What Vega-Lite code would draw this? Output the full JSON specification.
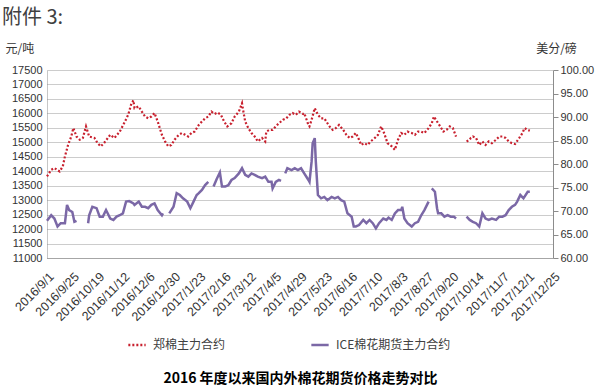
{
  "$schema": "https://vega.github.io/schema/vega-lite/v6.json",
  "width": 506,
  "height": 188,
  "autosize": "none",
  "padding": {"left": 47, "top": 70, "right": 47, "bottom": 129},
  "background": "white",
  "config": {"view": {"stroke": null}, "font": "Liberation Sans", "axisX": {"labelOverlap": false}},
  "title": {"text": "附件 3:", "anchor": "start", "frame": "group", "dx": -45, "offset": 14, "fontSize": 20, "font": "Noto Sans CJK SC", "fontWeight": "normal", "color": "#404040"},
  "datasets": {
    "zc": [
      {"date": "2016-09-01", "v": 13820}, {"date": "2016-09-05", "v": 14050}, {"date": "2016-09-08", "v": 14110}, {"date": "2016-09-13", "v": 13990}, {"date": "2016-09-16", "v": 14170}, {"date": "2016-09-18", "v": 14510}, {"date": "2016-09-21", "v": 14910}, {"date": "2016-09-24", "v": 15200}, {"date": "2016-09-26", "v": 15490}, {"date": "2016-09-29", "v": 15200},
      {"date": "2016-10-02", "v": 15090}, {"date": "2016-10-05", "v": 15150}, {"date": "2016-10-08", "v": 15550}, {"date": "2016-10-11", "v": 15200}, {"date": "2016-10-16", "v": 15150}, {"date": "2016-10-19", "v": 14970}, {"date": "2016-10-22", "v": 14860}, {"date": "2016-10-25", "v": 14970}, {"date": "2016-10-31", "v": 15260},
      {"date": "2016-11-04", "v": 15150}, {"date": "2016-11-09", "v": 15370}, {"date": "2016-11-14", "v": 15720}, {"date": "2016-11-17", "v": 15950}, {"date": "2016-11-20", "v": 16330}, {"date": "2016-11-22", "v": 16450}, {"date": "2016-11-23", "v": 16180}, {"date": "2016-11-27", "v": 16240}, {"date": "2016-11-30", "v": 16060},
      {"date": "2016-12-03", "v": 15890}, {"date": "2016-12-06", "v": 15830}, {"date": "2016-12-09", "v": 15890}, {"date": "2016-12-12", "v": 16010}, {"date": "2016-12-15", "v": 15720}, {"date": "2016-12-19", "v": 15260}, {"date": "2016-12-22", "v": 15030}, {"date": "2016-12-25", "v": 14860}, {"date": "2016-12-28", "v": 14910}, {"date": "2016-12-31", "v": 15090},
      {"date": "2017-01-04", "v": 15260}, {"date": "2017-01-07", "v": 15320}, {"date": "2017-01-10", "v": 15260}, {"date": "2017-01-13", "v": 15200}, {"date": "2017-01-16", "v": 15320}, {"date": "2017-01-19", "v": 15370}, {"date": "2017-01-23", "v": 15600}, {"date": "2017-01-26", "v": 15720}, {"date": "2017-01-29", "v": 15830},
      {"date": "2017-02-01", "v": 15890}, {"date": "2017-02-04", "v": 16060}, {"date": "2017-02-07", "v": 15980}, {"date": "2017-02-10", "v": 16030}, {"date": "2017-02-13", "v": 15950}, {"date": "2017-02-16", "v": 15720}, {"date": "2017-02-19", "v": 15550}, {"date": "2017-02-23", "v": 15660}, {"date": "2017-02-26", "v": 15890},
      {"date": "2017-03-02", "v": 16060}, {"date": "2017-03-05", "v": 16350}, {"date": "2017-03-06", "v": 16120}, {"date": "2017-03-08", "v": 15720}, {"date": "2017-03-11", "v": 15490}, {"date": "2017-03-14", "v": 15320}, {"date": "2017-03-17", "v": 15200}, {"date": "2017-03-20", "v": 15030}, {"date": "2017-03-24", "v": 15150}, {"date": "2017-03-27", "v": 15030}, {"date": "2017-03-28", "v": 15370}, {"date": "2017-03-31", "v": 15430},
      {"date": "2017-04-03", "v": 15430}, {"date": "2017-04-06", "v": 15550}, {"date": "2017-04-09", "v": 15660}, {"date": "2017-04-13", "v": 15780}, {"date": "2017-04-16", "v": 15830}, {"date": "2017-04-19", "v": 15950}, {"date": "2017-04-22", "v": 16010}, {"date": "2017-04-25", "v": 15950}, {"date": "2017-04-28", "v": 16060},
      {"date": "2017-05-02", "v": 15980}, {"date": "2017-05-03", "v": 16010}, {"date": "2017-05-07", "v": 15600}, {"date": "2017-05-08", "v": 15550}, {"date": "2017-05-10", "v": 15780}, {"date": "2017-05-13", "v": 16180}, {"date": "2017-05-16", "v": 15950}, {"date": "2017-05-19", "v": 15830}, {"date": "2017-05-22", "v": 15830}, {"date": "2017-05-27", "v": 15550}, {"date": "2017-05-30", "v": 15430},
      {"date": "2017-06-02", "v": 15490}, {"date": "2017-06-05", "v": 15600}, {"date": "2017-06-09", "v": 15430}, {"date": "2017-06-12", "v": 15260}, {"date": "2017-06-15", "v": 15150}, {"date": "2017-06-18", "v": 15200}, {"date": "2017-06-21", "v": 15320}, {"date": "2017-06-24", "v": 15090}, {"date": "2017-06-26", "v": 14910}, {"date": "2017-06-29", "v": 14970},
      {"date": "2017-07-02", "v": 14910}, {"date": "2017-07-05", "v": 15030}, {"date": "2017-07-09", "v": 15150}, {"date": "2017-07-12", "v": 15260}, {"date": "2017-07-15", "v": 15550}, {"date": "2017-07-18", "v": 15300}, {"date": "2017-07-21", "v": 14970}, {"date": "2017-07-25", "v": 14860}, {"date": "2017-07-28", "v": 14740}, {"date": "2017-07-31", "v": 15090},
      {"date": "2017-08-03", "v": 15320}, {"date": "2017-08-06", "v": 15260}, {"date": "2017-08-09", "v": 15370}, {"date": "2017-08-13", "v": 15320}, {"date": "2017-08-16", "v": 15260}, {"date": "2017-08-19", "v": 15370}, {"date": "2017-08-22", "v": 15370}, {"date": "2017-08-25", "v": 15320}, {"date": "2017-08-29", "v": 15490},
      {"date": "2017-09-01", "v": 15660}, {"date": "2017-09-03", "v": 15890}, {"date": "2017-09-06", "v": 15720}, {"date": "2017-09-09", "v": 15550}, {"date": "2017-09-12", "v": 15370}, {"date": "2017-09-15", "v": 15430}, {"date": "2017-09-18", "v": 15550}, {"date": "2017-09-21", "v": 15490}, {"date": "2017-09-24", "v": 15200}, {"date": "2017-09-29", "v": null},
      {"date": "2017-10-04", "v": 15030}, {"date": "2017-10-07", "v": 15090}, {"date": "2017-10-08", "v": 15150}, {"date": "2017-10-10", "v": 15200}, {"date": "2017-10-13", "v": 15150}, {"date": "2017-10-16", "v": 14910}, {"date": "2017-10-19", "v": 15030}, {"date": "2017-10-22", "v": 14910}, {"date": "2017-10-25", "v": 15030}, {"date": "2017-10-28", "v": 14970},
      {"date": "2017-11-01", "v": 15090}, {"date": "2017-11-04", "v": 15200}, {"date": "2017-11-07", "v": 15200}, {"date": "2017-11-10", "v": 15150}, {"date": "2017-11-13", "v": 15030}, {"date": "2017-11-16", "v": 14970}, {"date": "2017-11-19", "v": 14940}, {"date": "2017-11-23", "v": 15150}, {"date": "2017-11-26", "v": 15320}, {"date": "2017-11-28", "v": 15490},
      {"date": "2017-12-01", "v": 15430}, {"date": "2017-12-03", "v": 15400}
    ],
    "ice": [
      {"date": "2016-09-01", "v": 67.9}, {"date": "2016-09-05", "v": 69.1}, {"date": "2016-09-08", "v": 68.4}, {"date": "2016-09-11", "v": 66.7}, {"date": "2016-09-14", "v": 67.4}, {"date": "2016-09-18", "v": 67.4}, {"date": "2016-09-20", "v": 71.3}, {"date": "2016-09-22", "v": 70.2}, {"date": "2016-09-25", "v": 69.8}, {"date": "2016-09-27", "v": 67.7}, {"date": "2016-09-29", "v": 67.9}, {"date": "2016-10-03", "v": null},
      {"date": "2016-10-10", "v": 67.4}, {"date": "2016-10-11", "v": 69.1}, {"date": "2016-10-14", "v": 70.9}, {"date": "2016-10-18", "v": 70.6}, {"date": "2016-10-21", "v": 68.8}, {"date": "2016-10-24", "v": 68.8}, {"date": "2016-10-27", "v": 70.2}, {"date": "2016-10-31", "v": 68.4},
      {"date": "2016-11-03", "v": 68.1}, {"date": "2016-11-06", "v": 68.8}, {"date": "2016-11-09", "v": 69.1}, {"date": "2016-11-12", "v": 69.5}, {"date": "2016-11-15", "v": 72.0}, {"date": "2016-11-18", "v": 72.1}, {"date": "2016-11-22", "v": 71.6}, {"date": "2016-11-23", "v": 71.3}, {"date": "2016-11-27", "v": 72.0}, {"date": "2016-11-30", "v": 70.9},
      {"date": "2016-12-03", "v": 70.9}, {"date": "2016-12-06", "v": 70.6}, {"date": "2016-12-09", "v": 71.3}, {"date": "2016-12-12", "v": 71.6}, {"date": "2016-12-15", "v": 70.2}, {"date": "2016-12-19", "v": 69.1}, {"date": "2016-12-20", "v": 69.5}, {"date": "2016-12-23", "v": null}, {"date": "2016-12-26", "v": 69.5}, {"date": "2016-12-30", "v": 70.9},
      {"date": "2017-01-02", "v": 73.8}, {"date": "2017-01-05", "v": 73.4}, {"date": "2017-01-08", "v": 72.7}, {"date": "2017-01-12", "v": 72.0}, {"date": "2017-01-15", "v": 70.6}, {"date": "2017-01-18", "v": 72.0}, {"date": "2017-01-21", "v": 73.4}, {"date": "2017-01-23", "v": 73.8}, {"date": "2017-01-26", "v": 74.5}, {"date": "2017-01-29", "v": 75.5},
      {"date": "2017-02-01", "v": 76.2}, {"date": "2017-02-03", "v": null}, {"date": "2017-02-06", "v": 75.2}, {"date": "2017-02-09", "v": 76.8}, {"date": "2017-02-12", "v": 78.2}, {"date": "2017-02-14", "v": 75.2}, {"date": "2017-02-17", "v": 75.2}, {"date": "2017-02-20", "v": 75.5}, {"date": "2017-02-23", "v": 76.6}, {"date": "2017-02-26", "v": 77.0},
      {"date": "2017-03-02", "v": 78.0}, {"date": "2017-03-05", "v": 79.1}, {"date": "2017-03-08", "v": 77.7}, {"date": "2017-03-11", "v": 77.3}, {"date": "2017-03-14", "v": 78.0}, {"date": "2017-03-17", "v": 77.7}, {"date": "2017-03-20", "v": 77.3}, {"date": "2017-03-24", "v": 77.0}, {"date": "2017-03-27", "v": 77.3}, {"date": "2017-03-30", "v": 76.2},
      {"date": "2017-04-02", "v": 76.2}, {"date": "2017-04-03", "v": 74.8}, {"date": "2017-04-06", "v": 76.2}, {"date": "2017-04-09", "v": 76.6}, {"date": "2017-04-11", "v": 76.4}, {"date": "2017-04-13", "v": null}, {"date": "2017-04-15", "v": 78.0}, {"date": "2017-04-17", "v": 79.1}, {"date": "2017-04-21", "v": 78.7}, {"date": "2017-04-24", "v": 79.1}, {"date": "2017-04-27", "v": 78.7}, {"date": "2017-04-30", "v": 79.1},
      {"date": "2017-05-03", "v": 78.0}, {"date": "2017-05-07", "v": 76.6}, {"date": "2017-05-08", "v": 76.2}, {"date": "2017-05-10", "v": 80.5}, {"date": "2017-05-11", "v": 84.4}, {"date": "2017-05-13", "v": 85.5}, {"date": "2017-05-14", "v": 80.5}, {"date": "2017-05-16", "v": 73.4}, {"date": "2017-05-19", "v": 72.7}, {"date": "2017-05-22", "v": 73.0}, {"date": "2017-05-25", "v": 72.3}, {"date": "2017-05-29", "v": 73.0},
      {"date": "2017-06-01", "v": 72.7}, {"date": "2017-06-04", "v": 73.0}, {"date": "2017-06-07", "v": 72.3}, {"date": "2017-06-10", "v": 72.0}, {"date": "2017-06-13", "v": 69.5}, {"date": "2017-06-17", "v": 68.8}, {"date": "2017-06-19", "v": 66.7}, {"date": "2017-06-21", "v": 66.7}, {"date": "2017-06-24", "v": 67.0}, {"date": "2017-06-28", "v": 68.1},
      {"date": "2017-07-01", "v": 67.4}, {"date": "2017-07-04", "v": 68.1}, {"date": "2017-07-07", "v": 67.4}, {"date": "2017-07-10", "v": 66.3}, {"date": "2017-07-13", "v": 67.4}, {"date": "2017-07-17", "v": 68.4}, {"date": "2017-07-20", "v": 68.1}, {"date": "2017-07-22", "v": 68.6}, {"date": "2017-07-25", "v": 68.1}, {"date": "2017-07-28", "v": 69.5}, {"date": "2017-07-31", "v": 70.2},
      {"date": "2017-08-03", "v": 70.2}, {"date": "2017-08-04", "v": 70.9}, {"date": "2017-08-06", "v": 68.4}, {"date": "2017-08-09", "v": 67.4}, {"date": "2017-08-13", "v": 66.7}, {"date": "2017-08-16", "v": 67.4}, {"date": "2017-08-19", "v": 67.7}, {"date": "2017-08-22", "v": 69.1}, {"date": "2017-08-25", "v": 70.2}, {"date": "2017-08-29", "v": 72.0}, {"date": "2017-08-30", "v": null},
      {"date": "2017-09-01", "v": 74.8}, {"date": "2017-09-04", "v": 74.1}, {"date": "2017-09-06", "v": 70.6}, {"date": "2017-09-07", "v": 69.5}, {"date": "2017-09-10", "v": 69.5}, {"date": "2017-09-13", "v": 68.8}, {"date": "2017-09-16", "v": 69.1}, {"date": "2017-09-19", "v": 68.8}, {"date": "2017-09-22", "v": 68.8}, {"date": "2017-09-24", "v": 68.4}, {"date": "2017-09-28", "v": null},
      {"date": "2017-10-04", "v": 68.8}, {"date": "2017-10-07", "v": 68.1}, {"date": "2017-10-10", "v": 67.7}, {"date": "2017-10-13", "v": 67.4}, {"date": "2017-10-16", "v": 66.7}, {"date": "2017-10-19", "v": 69.5}, {"date": "2017-10-22", "v": 68.4}, {"date": "2017-10-25", "v": 68.1}, {"date": "2017-10-28", "v": 68.4},
      {"date": "2017-11-01", "v": 68.1}, {"date": "2017-11-04", "v": 68.8}, {"date": "2017-11-07", "v": 68.8}, {"date": "2017-11-10", "v": 69.1}, {"date": "2017-11-13", "v": 70.2}, {"date": "2017-11-16", "v": 70.9}, {"date": "2017-11-19", "v": 71.3}, {"date": "2017-11-21", "v": 72.0}, {"date": "2017-11-24", "v": 73.4}, {"date": "2017-11-27", "v": 72.7},
      {"date": "2017-12-01", "v": 74.1}, {"date": "2017-12-03", "v": 74.1}
    ]
  },
  "encoding": {
    "x": {
      "field": "date", "type": "temporal",
      "scale": {"type": "utc", "domain": [{"year": 2016, "month": 9, "date": 1, "utc": true}, {"year": 2017, "month": 12, "date": 25, "utc": true}]},
      "axis": {
        "values": [
          {"year": 2016, "month": 9, "date": 1, "utc": true}, {"year": 2016, "month": 9, "date": 25, "utc": true}, {"year": 2016, "month": 10, "date": 19, "utc": true}, {"year": 2016, "month": 11, "date": 12, "utc": true}, {"year": 2016, "month": 12, "date": 6, "utc": true}, {"year": 2016, "month": 12, "date": 30, "utc": true},
          {"year": 2017, "month": 1, "date": 23, "utc": true}, {"year": 2017, "month": 2, "date": 16, "utc": true}, {"year": 2017, "month": 3, "date": 12, "utc": true}, {"year": 2017, "month": 4, "date": 5, "utc": true}, {"year": 2017, "month": 4, "date": 29, "utc": true}, {"year": 2017, "month": 5, "date": 23, "utc": true},
          {"year": 2017, "month": 6, "date": 16, "utc": true}, {"year": 2017, "month": 7, "date": 10, "utc": true}, {"year": 2017, "month": 8, "date": 3, "utc": true}, {"year": 2017, "month": 8, "date": 27, "utc": true}, {"year": 2017, "month": 9, "date": 20, "utc": true}, {"year": 2017, "month": 10, "date": 14, "utc": true},
          {"year": 2017, "month": 11, "date": 7, "utc": true}, {"year": 2017, "month": 12, "date": 1, "utc": true}, {"year": 2017, "month": 12, "date": 25, "utc": true}
        ],
        "labelExpr": "utcFormat(datum.value, '%Y/%-m/%-d')",
        "labelAngle": -45, "labelAlign": "right", "labelBaseline": "top",
        "labelFontSize": 12.5, "labelColor": "#333333", "labelPadding": 12, "labelOverlap": false, "labelFlush": false, "labelBound": false,
        "ticks": false, "grid": false, "domainColor": "#a6a6a6", "domainWidth": 1,
        "title": "2016 年度以来国内外棉花期货价格走势对比",
        "titleFont": "Noto Sans CJK SC", "titleFontSize": 14, "titleFontWeight": "bold", "titleColor": "#000000",
        "titleX": 253, "titleY": 120, "titleAnchor": "middle", "titleBaseline": "middle"
      }
    }
  },
  "layer": [
    {
      "data": {"name": "zc"},
      "mark": {"type": "line", "strokeWidth": 2.2, "strokeDash": [2, 2], "strokeCap": "butt"},
      "encoding": {
        "y": {
          "field": "v", "type": "quantitative",
          "scale": {"domain": [11000, 17500], "nice": false, "zero": false},
          "axis": {
            "orient": "left", "values": [11000, 11500, 12000, 12500, 13000, 13500, 14000, 14500, 15000, 15500, 16000, 16500, 17000, 17500],
            "format": "d", "labelFontSize": 11, "labelColor": "#333333", "labelPadding": 5, "ticks": false,
            "domainColor": "#8c8c8c", "domainDash": [1, 1], "grid": true, "gridColor": "#999999", "gridDash": [1, 1], "gridWidth": 1,
            "title": "元/吨", "titleAngle": 0, "titleX": -42, "titleY": -22, "titleAlign": "left", "titleBaseline": "middle",
            "titleFont": "Noto Sans CJK SC", "titleFontSize": 12, "titleFontWeight": "normal", "titleColor": "#333333"
          }
        },
        "color": {
          "datum": "郑棉主力合约",
          "scale": {"domain": ["郑棉主力合约", "ICE棉花期货主力合约"], "range": ["#c8202e", "#7b68a6"]},
          "legend": {
            "orient": "none", "legendX": 80, "legendY": 265, "direction": "horizontal", "title": null,
            "symbolType": "stroke", "symbolSize": 300, "symbolStrokeWidth": 2.5,
            "labelFont": "Noto Sans CJK SC", "labelFontSize": 12, "labelColor": "#404040",
            "columnPadding": 80, "labelOffset": 6,
            "encode": {"symbols": {"update": {"strokeDash": {"signal": "datum.value === '郑棉主力合约' ? [2, 2] : [1, 0]"}}}}
          }
        }
      }
    },
    {
      "data": {"name": "ice"},
      "mark": {"type": "line", "strokeWidth": 2.5},
      "encoding": {
        "y": {
          "field": "v", "type": "quantitative",
          "scale": {"domain": [60, 100], "nice": false, "zero": false},
          "axis": {
            "orient": "right", "values": [60, 65, 70, 75, 80, 85, 90, 95, 100], "format": ".2f",
            "labelFontSize": 11, "labelColor": "#333333", "labelPadding": 2,
            "ticks": true, "tickSize": 5, "tickColor": "#8c8c8c", "domainColor": "#8c8c8c", "grid": false,
            "title": "美分/磅", "titleAngle": 0, "titleX": 3, "titleY": -22, "titleAlign": "center", "titleBaseline": "middle",
            "titleFont": "Noto Sans CJK SC", "titleFontSize": 12, "titleFontWeight": "normal", "titleColor": "#333333"
          }
        },
        "color": {"datum": "ICE棉花期货主力合约"}
      }
    }
  ],
  "resolve": {"scale": {"y": "independent"}, "axis": {"y": "independent"}}
}
